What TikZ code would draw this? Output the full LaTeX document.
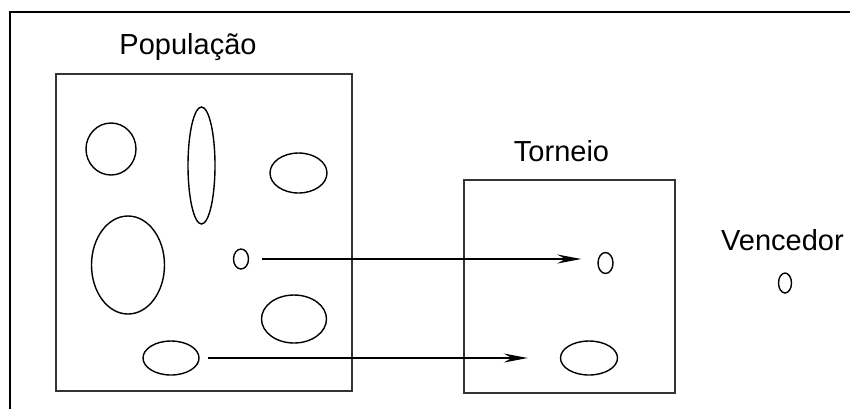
\documentclass[tikz,border=0pt]{standalone}
\usepackage{fontspec}
\setmainfont{Liberation Sans}
\usetikzlibrary{shapes.geometric,arrows.meta}
\tikzset{
  box/.style={draw=black!80, line width=1pt, inner sep=0pt},
  blob/.style={draw, ellipse, line width=0.7pt, inner sep=0pt},
  title/.style={font=\fontsize{14.5}{17}\selectfont, anchor=base, inner sep=0pt},
  pass/.style={line width=0.8pt, -{Stealth[length=12pt, width=4.5pt, inset=4pt]}}
}
\begin{document}
\begin{tikzpicture}[x=0.5pt, y=-0.5pt]
\useasboundingbox (0,0) rectangle (850,409);
% Draw frame (top and left edges)
\draw[line width=0.6pt] (10,409) -- (10,12) -- (850,12);
% Draw population box and its members
\node[title] (poplabel) at (188,54) {População};
\node[box, minimum width=148pt, minimum height=158.5pt] (pop) at (204,232.5) {};
\node[blob, minimum width=25pt, minimum height=26pt] (p1) at (111,149) {};
\node[blob, minimum width=13.5pt, minimum height=58.5pt] (p2) at (201.5,165.5) {};
\node[blob, minimum width=28.5pt, minimum height=20pt] (p3) at (298.5,173) {};
\node[blob, minimum width=36.5pt, minimum height=49pt] (p4) at (128,265) {};
\node[blob, minimum width=7.5pt, minimum height=10pt] (p5) at (241,259) {};
\node[blob, minimum width=32.5pt, minimum height=24pt] (p6) at (294,319) {};
\node[blob, minimum width=28pt, minimum height=17pt] (p7) at (171,358) {};
% Draw tournament box and the chosen members
\node[title] (tornlabel) at (561.5,161) {Torneio};
\node[box, minimum width=105.5pt, minimum height=106.5pt] (torn) at (569.5,286.5) {};
\node[blob, minimum width=7.5pt, minimum height=10.5pt] (t1) at (605.5,263) {};
\node[blob, minimum width=28.5pt, minimum height=17pt] (t2) at (589,358) {};
% Draw winner
\node[title] (winlabel) at (782.5,250) {Vencedor};
\node[blob, minimum width=6.5pt, minimum height=10pt] (w1) at (785,283) {};
% Add arrows from population to tournament
\draw[pass, shorten <=6.5pt, shorten >=8pt] (p5.east) -- (p5.east -| t1.west);
\draw[pass, shorten <=4pt, shorten >=16pt] (p7.east) -- (p7.east -| t2.west);
\end{tikzpicture}
\end{document}
